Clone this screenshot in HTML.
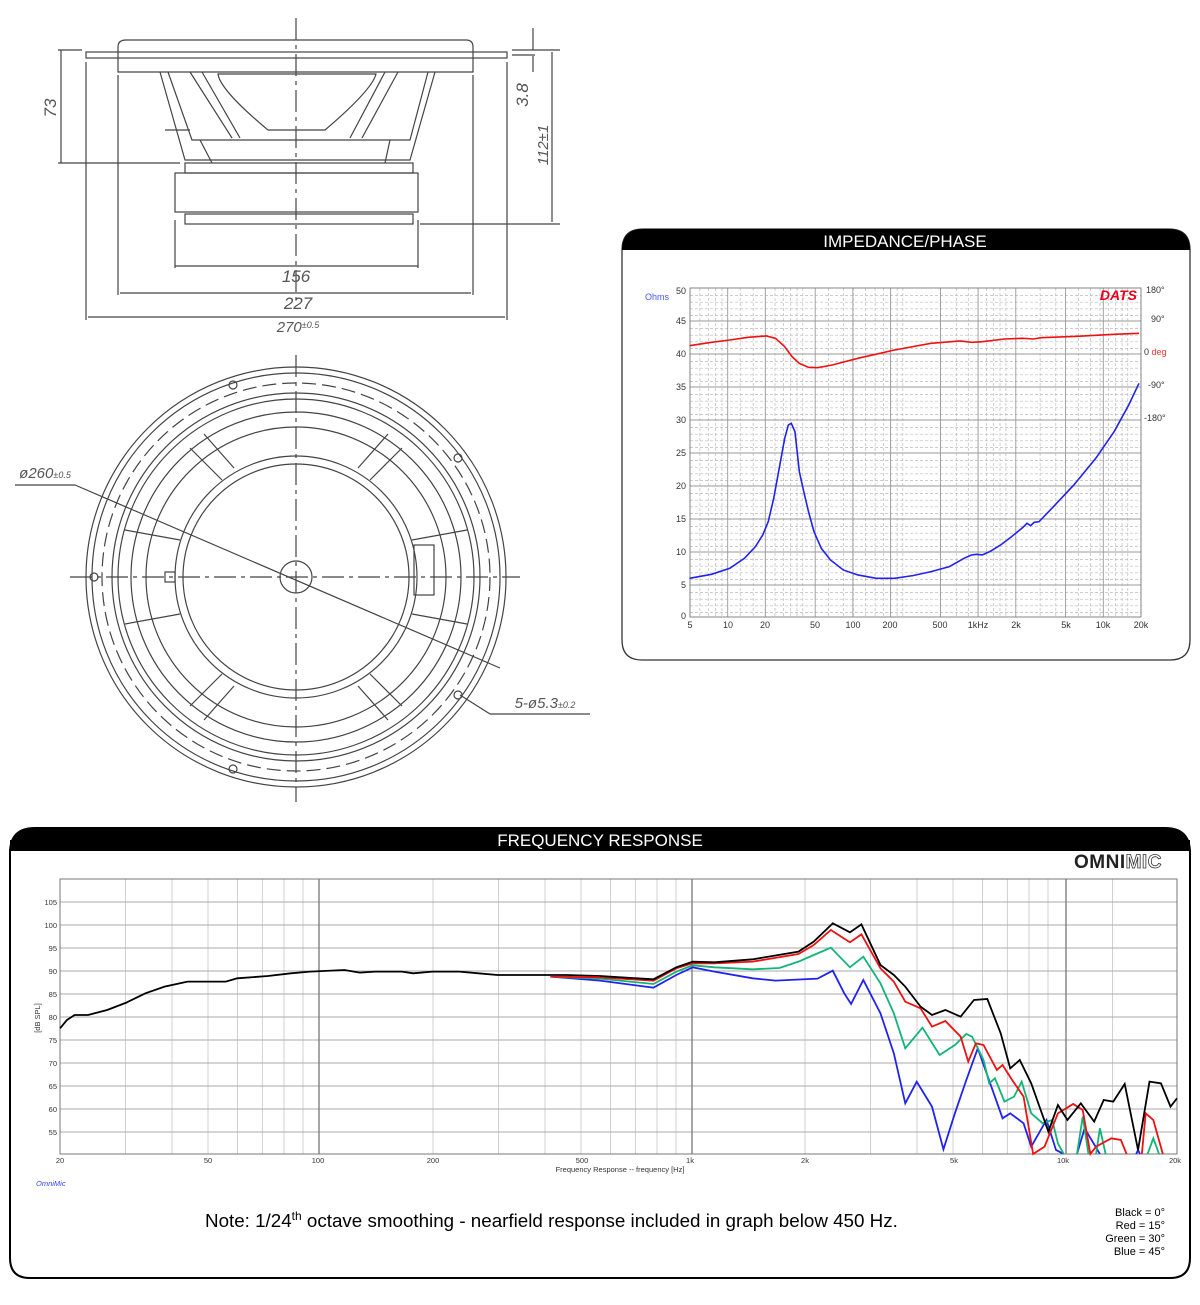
<!DOCTYPE html>
<html><head><meta charset="utf-8"><style>
html,body{margin:0;padding:0;background:#fff;}
body{width:1200px;height:1300px;overflow:hidden;font-family:"Liberation Sans",sans-serif;}
</style></head><body>
<svg width="1200" height="1300" viewBox="0 0 1200 1300" xmlns="http://www.w3.org/2000/svg" font-family="Liberation Sans, sans-serif">
<!-- ===== Side view drawing ===== -->
<g stroke="#444" fill="none" stroke-width="1.2">
  <line x1="296" y1="18" x2="296" y2="300" stroke-dasharray="22,5,4,5"/>
  <path d="M118,72 L118,47 Q118,40 126,40 L466,40 Q473,40 473,47 L473,72 Z"/>
  <rect x="86" y="52" width="421" height="6"/>
  <path d="M160,72 L185,160 L410,160 L435,72"/>
  <path d="M168,72 L192,140 L410,140 L428,72"/>
  <path d="M190,72 L232,138 M202,72 L240,138 M385,72 L350,138 M398,72 L362,138"/>
  <path d="M218,74 Q220,90 268,130 L325,130 Q372,90 376,74 Z"/>
  <path d="M200,140 L212,163 M390,140 L385,163"/>
  <line x1="165" y1="130" x2="190" y2="130"/>
  <rect x="185" y="163" width="228" height="10"/>
  <rect x="175" y="173" width="243" height="39"/>
  <rect x="185" y="214" width="228" height="10"/>
  <line x1="58" y1="50" x2="82" y2="50"/><line x1="58" y1="163" x2="180" y2="163"/>
  <line x1="61" y1="50" x2="61" y2="163"/>
  <line x1="86" y1="62" x2="86" y2="320"/><line x1="507" y1="62" x2="507" y2="320"/>
  <line x1="118" y1="75" x2="118" y2="295"/><line x1="473" y1="75" x2="473" y2="295"/>
  <line x1="175" y1="220" x2="175" y2="268"/><line x1="418" y1="220" x2="418" y2="268"/>
  <line x1="175" y1="266" x2="418" y2="266"/>
  <line x1="120" y1="293" x2="471" y2="293"/>
  <line x1="88" y1="317" x2="505" y2="317"/>
  <line x1="512" y1="50" x2="560" y2="50"/><line x1="512" y1="55" x2="535" y2="55"/>
  <line x1="420" y1="224" x2="560" y2="224"/>
  <line x1="533" y1="28" x2="533" y2="50"/><line x1="533" y1="56" x2="533" y2="72"/>
  <line x1="552" y1="52" x2="552" y2="222"/>
</g>
<g font-style="italic" font-size="17" fill="#555" text-anchor="middle">
  <text x="296" y="282">156</text><text x="298" y="309">227</text>
  <text x="298" y="332" font-size="15">270<tspan font-size="9" dy="-4">±0.5</tspan></text>
  <text transform="translate(56,108) rotate(-90)">73</text>
  <text transform="translate(528,95) rotate(-90)">3.8</text>
  <text transform="translate(548,145) rotate(-90)" font-size="15">112±1</text>
  <text x="45" y="478" font-size="15">ø260<tspan font-size="9">±0.5</tspan></text>
  <text x="545" y="708" font-size="15">5-ø5.3<tspan font-size="9">±0.2</tspan></text>
</g>
<!-- ===== Front view ===== -->
<g stroke="#444" fill="none" stroke-width="1.2">
  <line x1="296" y1="355" x2="296" y2="802" stroke-dasharray="22,5,4,5"/>
  <line x1="70" y1="577" x2="520" y2="577" stroke-dasharray="22,5,4,5"/>
  <circle cx="296" cy="577" r="210"/>
  <circle cx="296" cy="577" r="204"/>
  <circle cx="296" cy="577" r="194" stroke-dasharray="14,6"/>
  <circle cx="296" cy="577" r="184"/>
  <circle cx="296" cy="577" r="178"/>
  <circle cx="296" cy="577" r="165"/>
  <circle cx="296" cy="577" r="150"/>
  <circle cx="296" cy="577" r="121"/>
  <circle cx="296" cy="577" r="113"/>
  <circle cx="296" cy="577" r="16"/>
  <circle cx="233" cy="385" r="4"/><circle cx="458" cy="458" r="4"/><circle cx="458" cy="695" r="4"/><circle cx="233" cy="769" r="4"/><circle cx="94" cy="577" r="4"/>
  <path d="M190,448 L222,480 M204,434 L234,468 M402,448 L370,480 M388,434 L358,468 M190,706 L222,674 M204,720 L234,686 M402,706 L370,674 M388,720 L358,686"/>
  <path d="M125,530 L180,540 M125,624 L180,614 M467,530 L412,540 M467,624 L412,614"/>
  <rect x="414" y="545" width="20" height="50"/>
  <rect x="165" y="572" width="10" height="10"/>
  <line x1="75" y1="485" x2="500" y2="668"/>
  <line x1="460" y1="695" x2="490" y2="714"/><line x1="490" y1="714" x2="590" y2="714"/>
  <line x1="15" y1="485" x2="75" y2="485"/>
</g>
<!-- ===== Impedance panel ===== -->
<path d="M622,250 Q622,229 643,229 L1169,229 Q1190,229 1190,250 L1190,640 Q1190,660 1170,660 L642,660 Q622,660 622,640 Z" fill="#fff" stroke="#333" stroke-width="1.3"/>
<path d="M622,250 Q622,229 643,229 L1169,229 Q1190,229 1190,250 Z" fill="#000"/>
<text x="905" y="247" fill="#fff" font-size="17" text-anchor="middle">IMPEDANCE/PHASE</text>
<g stroke="#bbb" stroke-width="0.7" fill="none" stroke-dasharray="3,2">
  <path d="M690,295.6H1141M690,302.2H1141M690,308.8H1141M690,315.4H1141M690,328.6H1141M690,335.2H1141M690,341.8H1141M690,348.4H1141M690,361.6H1141M690,368.2H1141M690,374.8H1141M690,381.4H1141M690,394.6H1141M690,401.2H1141M690,407.8H1141M690,414.4H1141M690,427.6H1141M690,434.2H1141M690,440.8H1141M690,447.4H1141M690,460.6H1141M690,467.2H1141M690,473.8H1141M690,480.4H1141M690,493.6H1141M690,500.2H1141M690,506.8H1141M690,513.4H1141M690,526.6H1141M690,533.2H1141M690,539.8H1141M690,546.4H1141M690,559.6H1141M690,566.2H1141M690,572.8H1141M690,579.4H1141M690,592.6H1141M690,599.2H1141M690,605.8H1141M690,612.4H1141"/>
  <path d="M699.9,288V617M708.3,288V617M715.6,288V617M722,288V617M740.2,288V617M753.2,288V617M765.3,288V617M775.0,288V617M783.4,288V617M790.7,288V617M797.0,288V617M802.8,288V617M828.5,288V617M843.6,288V617M853.4,288V617M865.4,288V617M875.1,288V617M883.4,288V617M890.7,288V617M897.1,288V617M902.8,288V617M940.6,288V617M956.3,288V617M968.3,288V617M978.0,288V617M986.4,288V617M993.7,288V617M1000,288V617M1005.9,288V617M1040.1,288V617M1055.8,288V617M1078.3,288V617M1090.3,288V617M1100.0,288V617M1108.4,288V617M1115.7,288V617M1122.1,288V617M1127.8,288V617"/>
</g>
<g stroke="#999" stroke-width="0.9" fill="none">
  <path d="M690,321H1141M690,354H1141M690,387H1141M690,420H1141M690,453H1141M690,486H1141M690,519H1141M690,552H1141M690,585H1141"/>
  <path d="M727.7,288V617M765.3,288V617M815.2,288V617M852.9,288V617M890.6,288V617M940.4,288V617M978.1,288V617M1015.8,288V617M1065.6,288V617M1103.3,288V617"/>
  <rect x="690" y="288" width="451" height="329" stroke="#777"/>
</g>
<g font-size="9" fill="#333">
  <g text-anchor="end"><text x="686" y="294">50</text><text x="686" y="324">45</text><text x="686" y="357">40</text><text x="686" y="390">35</text><text x="686" y="423">30</text><text x="686" y="456">25</text><text x="686" y="489">20</text><text x="686" y="522">15</text><text x="686" y="555">10</text><text x="686" y="588">5</text><text x="686" y="619">0</text></g>
  <g text-anchor="middle"><text x="690" y="628">5</text><text x="728" y="628">10</text><text x="765" y="628">20</text><text x="815" y="628">50</text><text x="853" y="628">100</text><text x="890" y="628">200</text><text x="940" y="628">500</text><text x="978" y="628">1kHz</text><text x="1016" y="628">2k</text><text x="1066" y="628">5k</text><text x="1103" y="628">10k</text><text x="1141" y="628">20k</text></g>
  <text x="645" y="300" fill="#4455ff">Ohms</text>
  <text x="1146" y="293">180°</text><text x="1151" y="322">90°</text><text x="1144" y="355">0 <tspan fill="#f33">deg</tspan></text><text x="1148" y="388">-90°</text><text x="1144" y="421">-180°</text>
  <text x="1137" y="300" text-anchor="end" font-size="14" font-weight="bold" font-style="italic" fill="#e8001c">DATS</text>
</g>
<g transform="translate(620,225) scale(0.366,0.3333)" fill="none">
  <path vector-effect="non-scaling-stroke" stroke="#ee1111" stroke-width="1.6" d="M190,362 L250,352 L300,345 L350,337 L400,333 L425,340 L450,365 L470,395 L490,415 L515,427 L540,428 L580,420 L650,400 L750,375 L850,355 L930,348 L960,352 L990,350 L1050,342 L1100,340 L1130,342 L1150,338 L1250,334 L1350,328 L1418,325"/>
  <path vector-effect="non-scaling-stroke" stroke="#2222ee" stroke-width="1.6" d="M190,1060 L250,1048 L300,1030 L340,1000 L370,965 L390,930 L405,890 L420,820 L435,730 L450,640 L460,600 L468,595 L478,620 L490,740 L500,790 L515,860 L530,920 L550,970 L575,1005 L610,1035 L650,1050 L700,1060 L750,1060 L800,1052 L850,1040 L900,1025 L940,1000 L960,990 L975,988 L990,990 L1010,980 L1040,960 L1070,935 L1100,908 L1112,895 L1122,902 L1132,892 L1145,890 L1180,850 L1240,780 L1300,700 L1350,620 L1390,540 L1418,475"/>
</g>
<!-- ===== Frequency response panel ===== -->
<path d="M10,853 Q10,828 35,828 L1165,828 Q1190,828 1190,853 L1190,1258 Q1190,1278 1170,1278 L30,1278 Q10,1278 10,1258 Z" fill="#fff" stroke="#000" stroke-width="2"/>
<path d="M10,853 Q10,828 35,828 L1165,828 Q1190,828 1190,853 L1190,851 L10,851 Z" fill="#000"/>
<rect x="10" y="840" width="1180" height="11" fill="#000"/>
<text x="600" y="846" fill="#fff" font-size="17" text-anchor="middle">FREQUENCY RESPONSE</text>
<text x="1074" y="868" font-size="19" font-weight="bold" fill="#222" letter-spacing="0.5">OMNI<tspan fill="#fff" stroke="#333" stroke-width="0.8">MIC</tspan></text>
<g stroke="#ccc" stroke-width="0.9" fill="none">
  <path d="M125.5,879V1154M172,879V1154M208,879V1154M237.5,879V1154M262.4,879V1154M284,879V1154M303,879V1154M433,879V1154M498.5,879V1154M545,879V1154M581,879V1154M610.5,879V1154M635.4,879V1154M657,879V1154M676,879V1154M805,879V1154M870.5,879V1154M917,879V1154M953,879V1154M982.5,879V1154M1007.4,879V1154M1029,879V1154M1048,879V1154M1112.5,879V1154"/>
</g>
<g stroke="#aaa" stroke-width="1" fill="none">
  <path d="M60,902H1177M60,925H1177M60,948H1177M60,971H1177M60,994H1177M60,1017H1177M60,1040H1177M60,1063H1177M60,1086H1177M60,1109H1177M60,1132H1177"/>
</g>
<g stroke="#777" stroke-width="1.3"><path d="M319,879V1154M692,879V1154M1066,879V1154"/></g>
<rect x="60" y="879" width="1117" height="275" fill="none" stroke="#777" stroke-width="1"/>
<g font-size="7.5" fill="#333">
  <g text-anchor="end"><text x="57" y="905">105</text><text x="57" y="928">100</text><text x="57" y="951">95</text><text x="57" y="974">90</text><text x="57" y="997">85</text><text x="57" y="1020">80</text><text x="57" y="1043">75</text><text x="57" y="1066">70</text><text x="57" y="1089">65</text><text x="57" y="1112">60</text><text x="57" y="1135">55</text></g>
  <g text-anchor="middle"><text x="60" y="1163">20</text><text x="208" y="1163">50</text><text x="318" y="1163">100</text><text x="433" y="1163">200</text><text x="582" y="1163">500</text><text x="690" y="1163">1k</text><text x="805" y="1163">2k</text><text x="954" y="1163">5k</text><text x="1063" y="1163">10k</text><text x="1175" y="1163">20k</text>
  <text x="620" y="1172">Frequency Response -- frequency [Hz]</text></g>
  <text transform="translate(40,1018) rotate(-90)" text-anchor="middle">[dB SPL]</text>
  <text x="36" y="1186" fill="#3344ee" font-style="italic">OmniMic</text>
</g>
<g transform="translate(0,820) scale(0.3827,0.3333)" fill="none">
  <path vector-effect="non-scaling-stroke" stroke="#000" stroke-width="1.8" d="M157,625 L175,600 L195,585 L230,585 L280,570 L330,548 L380,520 L430,500 L490,485 L540,485 L590,485 L620,475 L700,468 L760,460 L810,455 L900,450 L940,458 L980,455 L1050,455 L1080,460 L1130,455 L1200,455 L1250,460 L1300,465 L1400,465 L1480,465 L1568,468"/>
</g>
<g transform="translate(600,880) scale(0.3816,0.3333)" fill="none" stroke-width="1.8">
  <path vector-effect="non-scaling-stroke" stroke="#2222ee" d="M-130,290 L0,302 L140,323 L200,285 L243,262 L300,275 L400,295 L460,302 L570,296 L610,272 L640,340 L658,372 L690,300 L735,400 L770,520 L800,670 L830,605 L870,680 L900,808 L930,700 L960,600 L990,505 L1010,570 L1055,715 L1075,700 L1110,730 L1130,800 L1170,720 L1195,810 L1215,822 M1250,822 L1270,745 L1310,822 M1405,822 L1410,810 L1415,822"/>
  <path vector-effect="non-scaling-stroke" stroke="#11b577" d="M-130,290 L0,296 L140,312 L200,275 L243,256 L300,262 L400,268 L470,264 L520,245 L560,225 L605,203 L655,262 L690,230 L735,310 L770,400 L800,505 L845,443 L890,525 L930,495 L960,462 L975,470 L1005,540 L1020,610 L1035,595 L1060,665 L1085,650 L1105,605 L1130,700 L1160,730 L1185,720 L1200,790 L1215,822 M1250,822 L1265,710 L1280,822 M1300,822 L1310,745 L1325,822 M1435,822 L1450,775 L1465,822"/>
  <path vector-effect="non-scaling-stroke" stroke="#ee1111" d="M-130,290 L0,292 L140,302 L200,265 L243,250 L300,250 L400,245 L520,222 L560,195 L605,150 L655,187 L685,163 L735,265 L770,305 L800,365 L840,385 L870,440 L905,423 L945,470 L965,545 L985,490 L1005,495 L1040,570 L1055,555 L1080,600 L1110,650 L1135,822 L1165,800 L1200,700 L1240,672 L1265,690 L1285,822 L1300,800 L1340,775 L1365,780 L1380,822 M1420,822 L1430,700 L1450,720 L1475,822"/>
  <path vector-effect="non-scaling-stroke" stroke="#000" d="M0,288 L140,298 L200,262 L243,245 L300,247 L400,238 L520,215 L560,185 L610,130 L655,157 L685,133 L735,255 L770,285 L800,320 L840,380 L870,405 L905,390 L945,410 L980,360 L1015,357 L1050,460 L1075,565 L1100,540 L1130,610 L1175,755 L1200,675 L1225,720 L1260,670 L1295,725 L1320,660 L1345,665 L1375,612 L1410,810 L1440,605 L1470,610 L1495,680 L1512,655"/>
</g>
<text x="205" y="1227" font-size="18.8" fill="#000">Note: 1/24<tspan font-size="12" dy="-7">th</tspan><tspan dy="7"> octave smoothing - nearfield response included in graph below 450 Hz.</tspan></text>
<g font-size="11" fill="#000" text-anchor="end"><text x="1165" y="1216">Black = 0°</text><text x="1165" y="1229">Red = 15°</text><text x="1165" y="1242">Green = 30°</text><text x="1165" y="1255">Blue = 45°</text></g>
</svg>
</body></html>
